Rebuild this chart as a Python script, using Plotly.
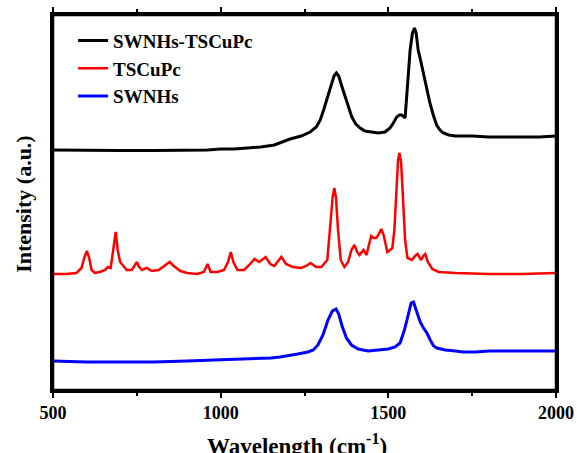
import plotly.graph_objects as go

# ---- data (intensity in arbitrary units) ----
swnhs_tscupc_x = [500, 600, 700, 800, 900, 960,
                  1000, 1040, 1080, 1120, 1160, 1207, 1240, 1267, 1285, 1297, 1307, 1316, 1328, 1338, 1345,
                  1352, 1362, 1371, 1381, 1391, 1403, 1416, 1430, 1446, 1470, 1490, 1505, 1515, 1525, 1533,
                  1540, 1550, 1558, 1565, 1572, 1578, 1583, 1589, 1596, 1604, 1614, 1624, 1634, 1644, 1654,
                  1664, 1680, 1700, 1750, 1800, 1850, 1900, 1950, 2000]
swnhs_tscupc_y = [240, 239.5, 239.5, 239.5, 239.5, 240,
                  241, 241, 242, 243, 245, 251, 254, 258, 263, 270, 280, 290, 305, 314, 317,
                  314, 303, 293, 282, 273, 266, 262, 259, 258, 257, 258, 262, 267, 273, 275,
                  275, 272, 313, 340, 357, 362, 357, 340, 330, 317, 302, 287, 275, 265, 260,
                  257, 255, 254, 254, 253, 253, 253, 253, 254]

tscupc_x = [500, 540, 570, 585, 593, 601, 608, 615, 625, 640, 655, 664, 672, 680, 687, 693, 700, 710,
            720, 735, 745, 750, 755, 765, 779, 795, 815, 835, 848, 860, 880, 900, 930, 950, 961, 970,
            990, 1010, 1022, 1030, 1038, 1050, 1070, 1085, 1101, 1115, 1134, 1148, 1160, 1181, 1195,
            1215, 1240, 1255, 1268, 1285, 1300, 1318, 1328, 1334, 1339, 1344, 1350, 1358, 1369, 1380,
            1390, 1399, 1407, 1414, 1426, 1435, 1442, 1449, 1456, 1464, 1472, 1479, 1486, 1497, 1505,
            1512, 1518, 1524, 1529, 1533, 1538, 1544, 1550, 1557, 1570, 1580, 1587, 1598, 1604, 1610,
            1618, 1631, 1650, 1700, 1800, 1900, 2000]
tscupc_y = [116, 116, 117, 122, 132, 139, 132, 120, 117, 118, 120, 123, 122, 140, 158, 140, 128, 124,
            120, 120, 125, 128, 124, 120, 122, 119, 120, 125, 128, 124, 119, 117, 116, 118, 126, 118,
            118, 120, 128, 138, 128, 120, 120, 125, 131, 128, 133, 126, 124, 133, 126,
            123, 122, 124, 127, 123, 123, 130, 165, 193, 202, 192, 160, 130, 123, 128,
            140, 145, 138, 135, 140, 135, 145, 154, 152, 152, 156, 161, 155, 138, 140,
            142, 160, 205, 230, 237, 228, 190, 150, 132, 130, 134, 136, 130, 134, 136,
            128, 121, 118, 117, 116, 116, 117]

swnhs_x = [500, 600, 700, 800, 900, 1000, 1100, 1150, 1177, 1200, 1230,
           1260, 1276, 1290, 1305, 1320, 1333, 1344, 1352, 1362, 1375, 1390, 1410, 1440, 1470, 1500,
           1520, 1535, 1548, 1558, 1568, 1575, 1583, 1595, 1605, 1615, 1625, 1635, 1645, 1670, 1700,
           1723, 1760, 1800, 1900, 2000]
swnhs_y = [29, 28, 28, 28, 29, 30, 31, 32, 33, 34, 36,
           38, 40, 45, 55, 70, 79, 81, 76, 64, 52, 45, 41, 39, 40, 41,
           43, 47, 60, 75, 87, 88, 80, 68, 62, 57, 50, 44, 42, 40, 39,
           38, 38, 39, 39, 39]

series_names = ["SWNHs-TSCuPc", "TSCuPc", "SWNHs"]
series_colors = ["#000000", "#ff0000", "#0000ff"]
series_widths = [3, 2.5, 3]
x_ticks = [500, 1000, 1500, 2000]
x_minor_ticks = [750, 1250, 1750]

FONT = "Liberation Serif, Times New Roman, serif"

fig = go.Figure()
for name, xs, ys, col, w in zip(series_names,
                                [swnhs_tscupc_x, tscupc_x, swnhs_x],
                                [swnhs_tscupc_y, tscupc_y, swnhs_y],
                                series_colors, series_widths):
    fig.add_trace(go.Scatter(x=xs, y=ys, mode="lines", name=name, legendgroup=name,
                             line=dict(color=col, width=w)))

fig.update_layout(
    width=577, height=453,
    margin=dict(l=53, r=21, t=15, b=63),
    paper_bgcolor="white", plot_bgcolor="white",
    font=dict(family=FONT, color="black"),
    showlegend=True,
    legend=dict(x=0.040, y=0.982, xanchor="left", yanchor="top",
                bgcolor="rgba(0,0,0,0)", tracegroupgap=0,
                font=dict(family=FONT, size=19, color="black", weight="bold")),
    xaxis=dict(range=[500, 2000], tickvals=x_ticks, ticktext=[str(t) for t in x_ticks],
               ticks="outside", ticklen=5, tickwidth=1.5, tickcolor="black",
               minor=dict(tickvals=x_minor_ticks, ticks="outside", ticklen=3,
                          tickwidth=1.5, tickcolor="black"),
               showline=True, linecolor="#000000", linewidth=2.5, mirror="all",
               showgrid=False, zeroline=False, automargin=False,
               tickfont=dict(family=FONT, size=18, color="black", weight="bold")),
    yaxis=dict(range=[0, 375], showticklabels=False, ticks="",
               showline=True, linecolor="#000000", linewidth=2.5, mirror="all",
               showgrid=False, zeroline=False, automargin=False),
    shapes=[dict(type="rect", xref="paper", yref="paper", x0=0, y0=0, x1=1, y1=1,
                 line=dict(color="#000000", width=2.5), fillcolor="rgba(0,0,0,0)", layer="above")],
    annotations=[
        dict(text="Wavelength (cm<sup>-1</sup>)", xref="paper", yref="paper",
             x=0.485, y=-0.100, xanchor="center", yanchor="top", showarrow=False,
             font=dict(family=FONT, size=23, color="black", weight="bold")),
        dict(text="Intensity (a.u.)", xref="paper", yref="paper",
             x=-0.06, y=0.496, xanchor="center", yanchor="middle", textangle=-90,
             showarrow=False,
             font=dict(family=FONT, size=22, color="black", weight="bold")),
    ],
)

fig.write_html("out.html", config={"displayModeBar": False},
               post_script="document.body.style.margin='0';document.body.style.overflow='hidden';")
